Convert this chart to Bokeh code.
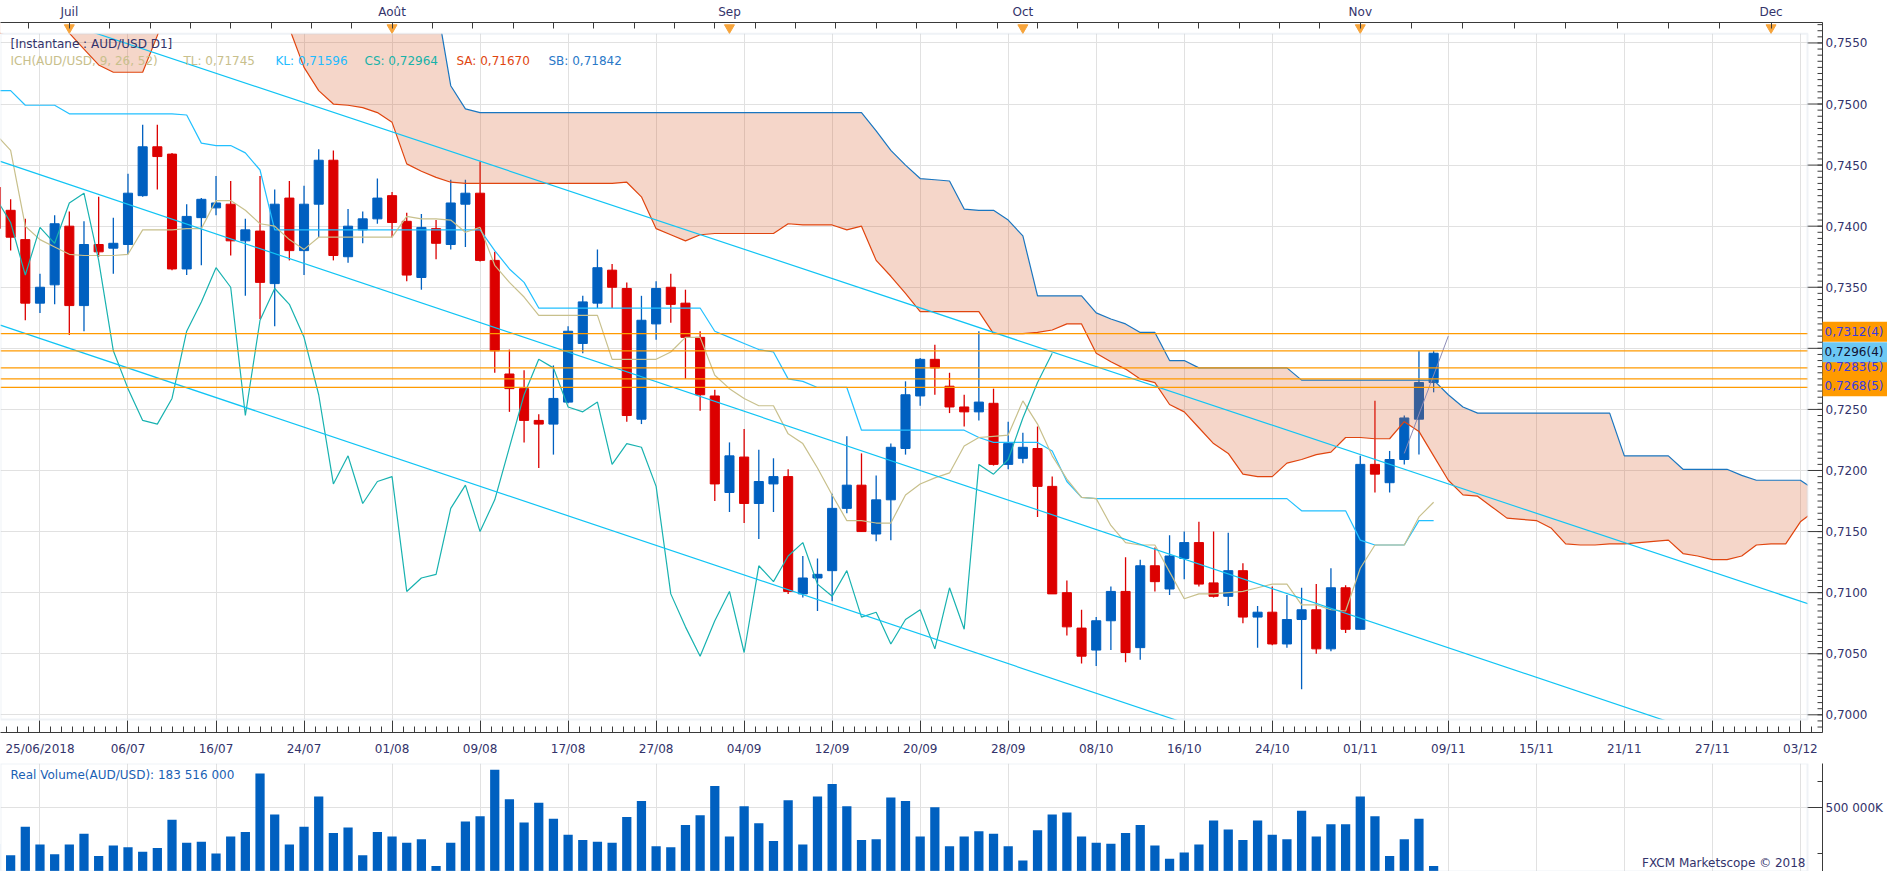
from bokeh.plotting import figure
from bokeh.models import (Range1d, LinearAxis, FixedTicker, Label, BoxAnnotation,
                          ColumnDataSource)
from bokeh.layouts import column
from bokeh.embed import file_html
from bokeh.resources import INLINE
from bokeh.core.properties import value

# ---------------------------------------------------------------- data
bar_index = list(range(-9, 90))          # trading-day index, 0 = 06/07/2018

open_price = [
    0.7432, 0.7413, 0.7389, 0.7337, 0.7352, 0.7400, 0.7335, 0.7385, 0.7382, 0.7385,
    0.7425, 0.7465, 0.7459, 0.7365, 0.7407, 0.7415, 0.7418, 0.7388, 0.7396, 0.7353,
    0.7423, 0.7380, 0.7418, 0.7454, 0.7375, 0.7397, 0.7406, 0.7425, 0.7404, 0.7358,
    0.7398, 0.7385, 0.7418, 0.7427, 0.7372, 0.7279, 0.7267, 0.7241, 0.7238, 0.7256,
    0.7304, 0.7337, 0.7364, 0.7349, 0.7242, 0.7320, 0.7350, 0.7337, 0.7309, 0.7261,
    0.7182, 0.7211, 0.7173, 0.7189, 0.7195, 0.7099, 0.7112, 0.7118, 0.7169, 0.7188,
    0.7148, 0.7176, 0.7218, 0.7261, 0.7291, 0.7269, 0.7252, 0.7248, 0.7255, 0.7205,
    0.7210, 0.7218, 0.7187, 0.7100, 0.7071, 0.7053, 0.7077, 0.7101, 0.7055, 0.7122,
    0.7103, 0.7128, 0.7141, 0.7108, 0.7097, 0.7118, 0.7080, 0.7084, 0.7058, 0.7078,
    0.7086, 0.7054, 0.7104, 0.7070, 0.7205, 0.7190, 0.7209, 0.7242, 0.7272,
]
high_price = [
    0.7440, 0.7422, 0.7406, 0.7361, 0.7409, 0.7412, 0.7404, 0.7424, 0.7407, 0.7443,
    0.7483, 0.7483, 0.7460, 0.7418, 0.7423, 0.7441, 0.7437, 0.7406, 0.7441, 0.7430,
    0.7437, 0.7433, 0.7463, 0.7462, 0.7414, 0.7412, 0.7439, 0.7428, 0.7411, 0.7410,
    0.7405, 0.7438, 0.7438, 0.7453, 0.7379, 0.7299, 0.7282, 0.7246, 0.7286, 0.7318,
    0.7343, 0.7381, 0.7369, 0.7354, 0.7343, 0.7355, 0.7361, 0.7348, 0.7314, 0.7266,
    0.7223, 0.7234, 0.7217, 0.7210, 0.7201, 0.7130, 0.7128, 0.7181, 0.7228, 0.7214,
    0.7196, 0.7222, 0.7273, 0.7292, 0.7303, 0.7280, 0.7262, 0.7314, 0.7267, 0.7240,
    0.7231, 0.7236, 0.7195, 0.7110, 0.7086, 0.7080, 0.7105, 0.7129, 0.7127, 0.7137,
    0.7147, 0.7150, 0.7158, 0.7150, 0.7149, 0.7124, 0.7089, 0.7105, 0.7098, 0.7104,
    0.7107, 0.7120, 0.7106, 0.7212, 0.7257, 0.7216, 0.7245, 0.7298, 0.7298,
]
low_price = [
    0.7390, 0.7380, 0.7323, 0.7329, 0.7336, 0.7311, 0.7314, 0.7375, 0.7361, 0.7377,
    0.7424, 0.7430, 0.7364, 0.7360, 0.7368, 0.7409, 0.7376, 0.7343, 0.7324, 0.7318,
    0.7372, 0.7360, 0.7391, 0.7372, 0.7370, 0.7386, 0.7402, 0.7391, 0.7355, 0.7348,
    0.7373, 0.7381, 0.7383, 0.7371, 0.7280, 0.7248, 0.7223, 0.7202, 0.7213, 0.7255,
    0.7296, 0.7333, 0.7333, 0.7240, 0.7238, 0.7307, 0.7321, 0.7275, 0.7249, 0.7175,
    0.7166, 0.7157, 0.7144, 0.7166, 0.7099, 0.7096, 0.7085, 0.7093, 0.7165, 0.7150,
    0.7142, 0.7143, 0.7213, 0.7253, 0.7262, 0.7247, 0.7236, 0.7241, 0.7204, 0.7201,
    0.7206, 0.7162, 0.7099, 0.7065, 0.7042, 0.7040, 0.7053, 0.7043, 0.7045, 0.7101,
    0.7098, 0.7111, 0.7105, 0.7096, 0.7089, 0.7075, 0.7055, 0.7057, 0.7055, 0.7021,
    0.7050, 0.7052, 0.7067, 0.7070, 0.7182, 0.7182, 0.7205, 0.7213, 0.7264,
]
close_price = [
    0.7398, 0.7391, 0.7337, 0.7350, 0.7402, 0.7335, 0.7385, 0.7379, 0.7386, 0.7427,
    0.7465, 0.7457, 0.7365, 0.7408, 0.7422, 0.7419, 0.7388, 0.7397, 0.7354, 0.7418,
    0.7380, 0.7418, 0.7454, 0.7376, 0.7400, 0.7406, 0.7423, 0.7403, 0.7360, 0.7399,
    0.7386, 0.7419, 0.7427, 0.7372, 0.7298, 0.7267, 0.7241, 0.7238, 0.7259, 0.7314,
    0.7338, 0.7366, 0.7350, 0.7245, 0.7323, 0.7349, 0.7336, 0.7309, 0.7262, 0.7189,
    0.7212, 0.7173, 0.7191, 0.7195, 0.7101, 0.7112, 0.7115, 0.7169, 0.7188, 0.7150,
    0.7176, 0.7219, 0.7262, 0.7291, 0.7284, 0.7252, 0.7248, 0.7256, 0.7205, 0.7222,
    0.7219, 0.7187, 0.7099, 0.7072, 0.7048, 0.7077, 0.7101, 0.7051, 0.7122, 0.7109,
    0.7130, 0.7141, 0.7107, 0.7097, 0.7118, 0.7080, 0.7084, 0.7058, 0.7078, 0.7086,
    0.7054, 0.7104, 0.7070, 0.7205, 0.7197, 0.7209, 0.7243, 0.7272, 0.7296,
]
volume_k = [
    219000, 128000, 352000, 212000, 135000, 212000, 296000, 121000, 205000, 191000,
    156000, 184000, 407000, 226000, 233000, 142000, 275000, 310000, 771000, 449000,
    212000, 352000, 589000, 303000, 345000, 128000, 310000, 275000, 226000, 254000,
    44000, 226000, 393000, 435000, 799000, 568000, 386000, 540000, 414000, 289000,
    247000, 233000, 226000, 428000, 554000, 198000, 191000, 365000, 442000, 673000,
    275000, 512000, 379000, 240000, 561000, 212000, 589000, 687000, 512000, 247000,
    254000, 582000, 554000, 275000, 505000, 198000, 275000, 317000, 296000, 198000,
    86000, 324000, 449000, 463000, 275000, 226000, 219000, 303000, 365000, 205000,
    100000, 149000, 212000, 400000, 331000, 247000, 400000, 289000, 254000, 477000,
    275000, 372000, 372000, 589000, 435000, 121000, 254000, 414000, 44000,
]
tenkan_sen = [
    0.7475, 0.7462, 0.7400, 0.7389, 0.7383, 0.7377, 0.7376, 0.7376, 0.7376, 0.7377,
    0.7397, 0.7397, 0.7397, 0.7398, 0.7398, 0.7421, 0.7421, 0.7413, 0.7402, 0.7400,
    0.7389, 0.7381, 0.7391, 0.7391, 0.7391, 0.7391, 0.7391, 0.7391, 0.7408, 0.7406,
    0.7406, 0.7405, 0.7395, 0.7399, 0.7368, 0.7354, 0.7342, 0.7327, 0.7327, 0.7327,
    0.7327, 0.7327, 0.7291, 0.7291, 0.7291, 0.7291, 0.7297, 0.7309, 0.7309, 0.7278,
    0.7267, 0.7259, 0.7253, 0.7253, 0.7230, 0.7222, 0.7202, 0.7180, 0.7159, 0.7159,
    0.7157, 0.7157, 0.7180, 0.7189, 0.7194, 0.7198, 0.7220, 0.7227, 0.7228, 0.7229,
    0.7257, 0.7238, 0.7212, 0.7193, 0.7178, 0.7177, 0.7155, 0.7141, 0.7139, 0.7139,
    0.7117, 0.7095, 0.7099, 0.7099, 0.7100, 0.7101, 0.7104, 0.7107, 0.7107, 0.7090,
    0.7090, 0.7086, 0.7085, 0.7120, 0.7139, 0.7139, 0.7139, 0.7162, 0.7174,
]
kijun_sen = [
    0.7511, 0.7511, 0.7499, 0.7499, 0.7499, 0.7492, 0.7492, 0.7492, 0.7492, 0.7492,
    0.7492, 0.7492, 0.7492, 0.7491, 0.7468, 0.7466, 0.7466, 0.7460, 0.7446, 0.7397,
    0.7397, 0.7397, 0.7397, 0.7397, 0.7397, 0.7397, 0.7397, 0.7397, 0.7397, 0.7397,
    0.7397, 0.7397, 0.7397, 0.7397, 0.7380, 0.7365, 0.7354, 0.7333, 0.7333, 0.7333,
    0.7333, 0.7333, 0.7333, 0.7333, 0.7333, 0.7333, 0.7333, 0.7333, 0.7333, 0.7314,
    0.7309, 0.7304, 0.7299, 0.7297, 0.7275, 0.7273, 0.7268, 0.7268, 0.7268, 0.7233,
    0.7233, 0.7233, 0.7233, 0.7233, 0.7233, 0.7233, 0.7233, 0.7227, 0.7223, 0.7223,
    0.7223, 0.7223, 0.7216, 0.7191, 0.7178, 0.7177, 0.7177, 0.7177, 0.7177, 0.7177,
    0.7177, 0.7177, 0.7177, 0.7177, 0.7177, 0.7177, 0.7177, 0.7177, 0.7177, 0.7167,
    0.7167, 0.7167, 0.7167, 0.7143, 0.7139, 0.7139, 0.7139, 0.7159, 0.7159,
]
cloud_index = list(range(-9, 116))
senkou_a = [
    0.7557, 0.7560, 0.7590, 0.7590, 0.7590, 0.7558, 0.7545, 0.7532, 0.7526, 0.7526,
    0.7526, 0.7556, 0.7590, 0.7590, 0.7590, 0.7590, 0.7590, 0.7590, 0.7590, 0.7590,
    0.7562, 0.7530, 0.7511, 0.7500, 0.7499, 0.7497, 0.7493, 0.7485, 0.7451, 0.7445,
    0.7440, 0.7436, 0.7435, 0.7435, 0.7435, 0.7435, 0.7435, 0.7435, 0.7435, 0.7435,
    0.7435, 0.7435, 0.7435, 0.7436, 0.7424, 0.7398, 0.7393, 0.7388, 0.7393, 0.7394,
    0.7394, 0.7394, 0.7394, 0.7394, 0.7402, 0.7401, 0.7401, 0.7401, 0.7397, 0.7400,
    0.7372, 0.7359, 0.7345, 0.7330, 0.7330, 0.7330, 0.7330, 0.7330, 0.7312, 0.7312,
    0.7312, 0.7313, 0.7315, 0.7320, 0.7320, 0.7296, 0.7289, 0.7283, 0.7275, 0.7272,
    0.7254, 0.7248, 0.7235, 0.7222, 0.7214, 0.7197, 0.7195, 0.7195, 0.7206, 0.7209,
    0.7213, 0.7215, 0.7227, 0.7227, 0.7226, 0.7226, 0.7240, 0.7232, 0.7212, 0.7192,
    0.7180, 0.7179, 0.7170, 0.7161, 0.7160, 0.7159, 0.7153, 0.7140, 0.7139, 0.7139,
    0.7140, 0.7140, 0.7141, 0.7142, 0.7143, 0.7132, 0.7130, 0.7127, 0.7127, 0.7130,
    0.7139, 0.7140, 0.7140, 0.7158, 0.7167,
]
senkou_b = [
    0.7600, 0.7600, 0.7600, 0.7600, 0.7600, 0.7600, 0.7600, 0.7600, 0.7600, 0.7600,
    0.7600, 0.7600, 0.7600, 0.7600, 0.7600, 0.7600, 0.7600, 0.7600, 0.7600, 0.7600,
    0.7600, 0.7600, 0.7600, 0.7600, 0.7600, 0.7600, 0.7600, 0.7600, 0.7600, 0.7600,
    0.7585, 0.7515, 0.7496, 0.7493, 0.7493, 0.7493, 0.7493, 0.7493, 0.7493, 0.7493,
    0.7493, 0.7493, 0.7493, 0.7493, 0.7493, 0.7493, 0.7493, 0.7493, 0.7493, 0.7493,
    0.7493, 0.7493, 0.7493, 0.7493, 0.7493, 0.7493, 0.7493, 0.7493, 0.7493, 0.7493,
    0.7478, 0.7462, 0.7450, 0.7439, 0.7438, 0.7437, 0.7414, 0.7413, 0.7413, 0.7405,
    0.7392, 0.7343, 0.7343, 0.7343, 0.7343, 0.7329, 0.7324, 0.7320, 0.7313, 0.7313,
    0.7290, 0.7290, 0.7284, 0.7284, 0.7284, 0.7284, 0.7284, 0.7284, 0.7284, 0.7274,
    0.7274, 0.7274, 0.7274, 0.7274, 0.7274, 0.7274, 0.7274, 0.7274, 0.7274, 0.7262,
    0.7252, 0.7247, 0.7247, 0.7247, 0.7247, 0.7247, 0.7247, 0.7247, 0.7247, 0.7247,
    0.7247, 0.7212, 0.7212, 0.7212, 0.7212, 0.7201, 0.7201, 0.7201, 0.7201, 0.7196,
    0.7192, 0.7192, 0.7192, 0.7192, 0.7184,
]
chikou_shift = 26
trend_x = [-8.7, 115.5]
trend_upper = [0.7584, 0.7087]
trend_middle = [0.7453, 0.6952]
trend_lower = [0.7319, 0.6818]
slope_x = [87.0, 90.0]
slope_y = [0.7214, 0.7310]
level_prices = [0.7312, 0.7298, 0.7284, 0.7275, 0.7268]
level_labels = ["0,7312(4)", "0,7283(5)", "0,7268(5)", "0,7296(4)"]
level_label_prices = [0.73135, 0.72845, 0.72690, 0.72968]
level_label_colors = ["#ff9a00", "#ff9a00", "#ff9a00", "#6cc8f4"]
level_text_colors = ["#3a3ae0", "#3a3ae0", "#3a3ae0", "#111133"]
date_ticks = list(range(-6, 115, 6))
date_labels = ["25/06/2018", "06/07", "16/07", "24/07", "01/08", "09/08", "17/08",
               "27/08", "04/09", "12/09", "20/09", "28/09", "08/10", "16/10",
               "24/10", "01/11", "09/11", "15/11", "21/11", "27/11", "03/12"]
month_ticks = [-4, 18, 41, 61, 84, 112]
month_labels = ["Juil", "Août", "Sep", "Oct", "Nov", "Dec"]
price_ticks = [0.7000, 0.7050, 0.7100, 0.7150, 0.7200, 0.7250,
               0.7300, 0.7350, 0.7400, 0.7450, 0.7500, 0.7550]
volume_ticks = [500000]
volume_labels = ["500 000K"]

# ---------------------------------------------------------------- layout constants
BAR_PX = 14.67                            # pixels per trading day
X_START = -8.691                          # left frame edge
X_END = X_START + 1887 / BAR_PX           # frame reaches the right page edge
AXIS_X = X_START + 1822 / BAR_PX          # where the price scale line sits
INNER_RIGHT = X_START + 1807 / BAR_PX     # right edge of the bordered plot area
Y_START, Y_END = 0.698552, 0.756674
INNER_BOTTOM, INNER_TOP = 0.699615, 0.755763
PRICE_PX = 12218.0                        # pixels per price unit
FONT = "DejaVu Sans"
AXIS_TEXT = "#33336b"
AXIS_LINE = "#3a3a3a"
BLUE, RED = "#0060c0", "#dc0000"


def style_axis(ax):
    ax.axis_line_color = AXIS_LINE
    ax.major_tick_line_color = AXIS_LINE
    ax.minor_tick_line_color = AXIS_LINE
    ax.major_label_text_font = FONT
    ax.major_label_text_font_size = "12px"
    ax.major_label_text_color = AXIS_TEXT
    ax.major_tick_out = 0
    ax.minor_tick_out = 0


p = figure(frame_width=1887, frame_height=710,
           x_range=Range1d(X_START, X_END), y_range=Range1d(Y_START, Y_END),
           y_axis_location=None, output_backend="svg", toolbar_location=None,
           title=None, min_border_left=0, min_border_right=0,
           min_border_top=22, min_border_bottom=26)
p.outline_line_color = None
p.background_fill_color = "white"
p.border_fill_color = "white"

bx = p.below[0]
style_axis(bx)
date_minor = [-6 + 0.75 * k for k in range(-3, 163)]
bx.ticker = FixedTicker(ticks=date_ticks, minor_ticks=date_minor)
bx.major_label_overrides = dict(zip(date_ticks, date_labels))
bx.major_tick_in = 12
bx.minor_tick_in = 6
bx.major_label_standoff = 9
bx.bounds = (X_START, AXIS_X)

top_minor = [-4 + 2.75 * k for k in range(-1, 33)] + [112 - 3.5 * k for k in range(0, 8)] + [115.5]
tx = LinearAxis(ticker=FixedTicker(ticks=month_ticks, minor_ticks=top_minor),
                major_label_overrides=dict(zip(month_ticks, month_labels)))
style_axis(tx)
tx.major_tick_in = 0
tx.minor_tick_in = 6
tx.major_label_standoff = 4
tx.bounds = (X_START, AXIS_X)
p.add_layout(tx, "above")

p.xgrid.grid_line_color = "#e1e1e1"
p.ygrid.ticker = FixedTicker(ticks=price_ticks)
p.ygrid.grid_line_color = "#e1e1e1"

# candles
colors = [BLUE if c >= o else RED for o, c in zip(open_price, close_price)]
src = ColumnDataSource(dict(
    x=bar_index, h=high_price, l=low_price,
    top=[max(o, c) for o, c in zip(open_price, close_price)],
    bottom=[min(o, c) for o, c in zip(open_price, close_price)],
    color=colors))
p.segment(x0="x", y0="l", x1="x", y1="h", line_color="color", line_width=1.3, source=src)
p.vbar(x="x", width=0.62, top="top", bottom="bottom", fill_color="color",
       line_color="color", line_width=1, source=src)

# cloud (drawn translucent over candles)
p.varea(x=cloud_index, y1=senkou_a, y2=senkou_b, fill_color="#d85a28", fill_alpha=0.25)
p.line(cloud_index, senkou_a, line_color="#e0450f", line_width=1.2)
p.line(cloud_index, senkou_b, line_color="#1a76c0", line_width=1.2)

# ichimoku lines
p.line(bar_index, kijun_sen, line_color="#22c0ff", line_width=1.2)
p.line(bar_index, tenkan_sen, line_color="#c8c08c", line_width=1.2)
p.line([i - chikou_shift for i in bar_index], close_price, line_color="#18b2b0", line_width=1.2)

# trend lines & levels
for ty in (trend_upper, trend_middle, trend_lower):
    p.line(trend_x, ty, line_color="#10c4f4", line_width=1.2)
p.line(slope_x, slope_y, line_color="#8c8cb8", line_width=1)
p.segment(x0=[X_START] * len(level_prices), x1=[X_END] * len(level_prices),
          y0=level_prices, y1=level_prices, line_color="#ff9a00", line_width=1.3)

# white bands between the bordered plot area and the scales
p.quad(left=[X_START - 1, X_START - 1, INNER_RIGHT], right=[X_END + 1, X_END + 1, X_END + 1],
       bottom=[INNER_TOP, Y_START - 0.01, Y_START - 0.01],
       top=[Y_END + 0.01, INNER_BOTTOM, Y_END + 0.01],
       fill_color="white", line_color=None)

# price scale on the right (line, ticks, labels)
minor_prices = [round(0.6990 + 0.0005 * k, 4) for k in range(0, 118)]
p.segment(x0=[AXIS_X], x1=[AXIS_X], y0=[Y_START], y1=[Y_END], line_color=AXIS_LINE, line_width=1)
p.segment(x0=[INNER_RIGHT] * len(price_ticks), x1=[AXIS_X] * len(price_ticks),
          y0=price_ticks, y1=price_ticks, line_color=AXIS_LINE, line_width=1)
p.segment(x0=[AXIS_X - 5 / BAR_PX] * len(minor_prices), x1=[AXIS_X] * len(minor_prices),
          y0=minor_prices, y1=minor_prices, line_color=AXIS_LINE, line_width=1)
p.text(x=[AXIS_X + 3 / BAR_PX] * len(price_ticks), y=price_ticks,
       text=[f"{t:.4f}".replace(".", ",") for t in price_ticks],
       text_font=value(FONT), text_font_size="12px", text_color=AXIS_TEXT,
       text_baseline="middle", text_align="left")

# price level tags on the scale
half = 10 / PRICE_PX
p.quad(left=[AXIS_X] * len(level_label_prices), right=[X_END] * len(level_label_prices),
       bottom=[v - half for v in level_label_prices], top=[v + half for v in level_label_prices],
       fill_color=level_label_colors, line_color=None)
p.text(x=[AXIS_X + 2 / BAR_PX] * len(level_labels), y=level_label_prices, text=level_labels,
       text_font=value(FONT), text_font_size="12px", text_color=level_text_colors,
       text_baseline="middle", text_align="left")

# month markers on the top axis
p.scatter(x=month_ticks, y=[0.75625] * len(month_ticks), marker="inverted_triangle",
          size=10, fill_color="#f7a43a", line_color="#f7a43a")

p.add_layout(BoxAnnotation(left=X_START, right=INNER_RIGHT, bottom=INNER_BOTTOM, top=INNER_TOP,
                           fill_alpha=0, line_color="#c9d4e0", line_width=2))

# legend texts
p.add_layout(Label(x=10, y=689, x_units="screen", y_units="screen",
                   text="[Instantane : AUD/USD D1]", text_font=FONT, text_font_size="12px",
                   text_color="#33336b", text_baseline="middle"))
legend_parts = [(10, "ICH(AUD/USD, 9, 26, 52)", "#c8c08c"), (183, "TL: 0,71745", "#c8c08c"),
                (275, "KL: 0,71596", "#22bbff"), (364, "CS: 0,72964", "#18b2a8"),
                (456, "SA: 0,71670", "#e0450f"), (548, "SB: 0,71842", "#2a78c8")]
for lx, txt, col in legend_parts:
    p.add_layout(Label(x=lx, y=672, x_units="screen", y_units="screen", text=txt,
                       text_font=FONT, text_font_size="12px", text_color=col,
                       text_baseline="middle"))

# ---------------------------------------------------------------- volume panel
vol = figure(frame_width=1822, frame_height=108, x_range=Range1d(X_START, AXIS_X),
             y_range=Range1d(0, 849000), x_axis_location=None, y_axis_location="right",
             output_backend="svg", toolbar_location=None, title=None,
             min_border_left=0, min_border_right=65, min_border_top=5, min_border_bottom=0)
vol.outline_line_color = None
vy = vol.right[0]
style_axis(vy)
vy.ticker = FixedTicker(ticks=volume_ticks, minor_ticks=[140000, 710000])
vy.major_label_overrides = dict(zip(volume_ticks, volume_labels))
vy.major_tick_in = 15
vy.minor_tick_in = 5
vy.major_label_standoff = 3
vol.xgrid.ticker = FixedTicker(ticks=date_ticks)
vol.ygrid.ticker = FixedTicker(ticks=volume_ticks)
vol.xgrid.grid_line_color = "#e1e1e1"
vol.ygrid.grid_line_color = "#e1e1e1"

vol.vbar(x=bar_index, top=volume_k, width=0.63, fill_color=BLUE, line_color=None)
vol.quad(left=[INNER_RIGHT], right=[AXIS_X + 1], bottom=[-10000], top=[900000],
         fill_color="white", line_color=None)
vol.add_layout(BoxAnnotation(left=X_START, right=INNER_RIGHT, bottom=0, top=849000,
                             fill_alpha=0, line_color="#c9d4e0", line_width=2))
vol.add_layout(Label(x=10, y=97, x_units="screen", y_units="screen",
                     text="Real Volume(AUD/USD): 183 516 000", text_font=FONT,
                     text_font_size="12px", text_color="#1a5fb4", text_baseline="middle"))
vol.add_layout(Label(x=1805, y=9, x_units="screen", y_units="screen",
                     text="FXCM Marketscope © 2018", text_font=FONT, text_font_size="12px",
                     text_color="#33336b", text_baseline="middle", text_align="right"))

layout = column(p, vol, spacing=0)
with open("out.html", "w", encoding="utf-8") as f:
    f.write(file_html(layout, INLINE))
